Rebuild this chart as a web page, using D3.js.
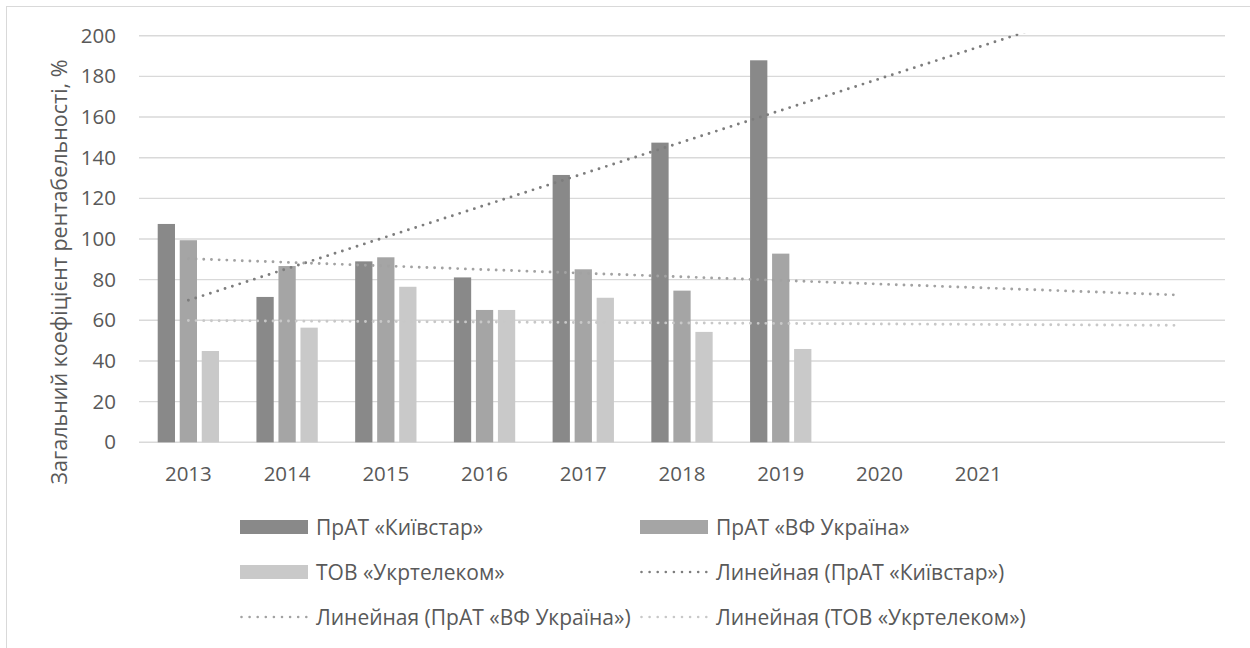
<!DOCTYPE html>
<html>
<head>
<meta charset="utf-8">
<script src="https://cdn.jsdelivr.net/npm/d3@7"></script>
<style>
  html, body { margin: 0; padding: 0; background: #fff; }
  svg { display: block; font-family: "Open Sans", "Noto Sans", sans-serif; }
</style>
</head>
<body>
<svg id="chart" width="1250" height="648"></svg>
<script>
// ---- data ----
const years = ["2013", "2014", "2015", "2016", "2017", "2018", "2019", "2020", "2021"];
const kyivstar   = [107.4, 71.5, 89.0, 81.1, 131.5, 147.4, 187.9, null, null];
const vfUkraine  = [99.4, 86.7, 91.0, 65.1, 85.1, 74.6, 92.8, null, null];
const ukrtelecom = [44.9, 56.4, 76.5, 65.1, 71.1, 54.3, 45.9, null, null];
const seriesNames = ["ПрАТ «Київстар»", "ПрАТ «ВФ Україна»", "ТОВ «Укртелеком»"];
const trendNames = ["Линейная (ПрАТ «Київстар»)", "Линейная (ПрАТ «ВФ Україна»)", "Линейная (ТОВ «Укртелеком»)"];
const yTicks = [0, 20, 40, 60, 80, 100, 120, 140, 160, 180, 200];
const forecastForward = 4;   // trendline forecast, periods
const yTitle = "Загальний коефіцієнт рентабельності, %";

const barColors = ["#898989", "#a5a5a5", "#c9c9c9"];
const trendColors = ["#7d7d7d", "#a2a2a2", "#c8c8c8"];

const allSeries = [kyivstar, vfUkraine, ukrtelecom];

// ---- layout ----
const svg = d3.select("#chart");
const plot = { left: 139, right: 1225, top: 35.7, bottom: 442.3 };

// chart border (only top/left visible in frame)
svg.append("rect").attr("x", 6.5).attr("y", 6.5).attr("width", 1260).attr("height", 660)
  .attr("fill", "none").attr("stroke", "#d9d9d9").attr("stroke-width", 1);

// number of periods: data points + forecast
const nData = d3.max(allSeries, s => s.filter(v => v != null).length);
const nPeriods = nData + forecastForward;
const periods = d3.range(1, nPeriods + 1);

const x = d3.scaleBand().domain(periods).range([plot.left, plot.right]).paddingInner(0).paddingOuter(0);
const bw = x.bandwidth();
const xc = p => x(p) + bw / 2;
const y = d3.scaleLinear().domain([0, 200]).range([plot.bottom, plot.top]);

// gridlines
const gGrid = svg.append("g");
gGrid.selectAll("line").data(yTicks).join("line")
  .attr("x1", plot.left).attr("x2", plot.right)
  .attr("y1", d => y(d)).attr("y2", d => y(d))
  .attr("stroke", "#d9d9d9").attr("stroke-width", 1.4);

// y tick labels
const yAxis = d3.axisLeft(y).tickValues(yTicks).tickSize(0).tickPadding(0);
const gy = svg.append("g").attr("transform", `translate(116,0)`).call(yAxis);
gy.select(".domain").remove();
gy.selectAll("text").attr("font-size", 20.5).attr("fill", "#595959")
  .attr("font-family", "'Open Sans', sans-serif");

// x axis labels
const xAxis = d3.axisBottom(x).tickSize(0).tickPadding(0).tickFormat(p => years[p - 1] || "");
const gx = svg.append("g").attr("transform", `translate(0,${plot.bottom})`).call(xAxis);
gx.select(".domain").remove();
gx.selectAll("text").attr("font-size", 20.5).attr("fill", "#595959")
  .attr("y", 39).attr("dy", 0)
  .attr("font-family", "'Open Sans', sans-serif");

// bars
const barW = bw * 0.175, barStep = bw * 0.223;
allSeries.forEach((vals, si) => {
  svg.append("g").selectAll("rect")
    .data(vals.map((v, i) => ({ p: i + 1, v })).filter(d => d.v != null))
    .join("rect")
    .attr("x", d => xc(d.p) + (si - 1) * barStep - barW / 2)
    .attr("width", barW)
    .attr("y", d => y(d.v))
    .attr("height", d => y(0) - y(d.v))
    .attr("fill", barColors[si]);
});

// linear trendlines (least squares, as Excel), clipped to plot area
svg.append("defs").append("clipPath").attr("id", "clip")
  .append("rect").attr("x", plot.left).attr("y", plot.top - 2)
  .attr("width", plot.right - plot.left).attr("height", plot.bottom - plot.top + 4);

function linFit(vals) {
  const pts = vals.map((v, i) => [i + 1, v]).filter(d => d[1] != null);
  const mx = d3.mean(pts, d => d[0]), my = d3.mean(pts, d => d[1]);
  const sxy = d3.sum(pts, d => (d[0] - mx) * (d[1] - my));
  const sxx = d3.sum(pts, d => (d[0] - mx) ** 2);
  const b = sxy / sxx, a = my - b * mx;
  return { a, b, x0: pts[0][0], x1: pts[pts.length - 1][0] + forecastForward };
}
const line = d3.line().x(d => xc(d[0])).y(d => y(d[1]));
const gTrend = svg.append("g").attr("clip-path", "url(#clip)");
allSeries.forEach((vals, si) => {
  const f = linFit(vals);
  const pts = [[f.x0, f.a + f.b * f.x0], [f.x1, f.a + f.b * f.x1]];
  gTrend.append("path").attr("d", line(pts))
    .attr("fill", "none").attr("stroke", trendColors[si])
    .attr("stroke-width", 2.9).attr("stroke-linecap", "round")
    .attr("stroke-dasharray", "0 7.7");
});

// y title
svg.append("text")
  .attr("transform", "translate(67,272) rotate(-90)")
  .attr("text-anchor", "middle")
  .attr("font-size", 21.5).attr("fill", "#595959")
  .text(yTitle);

// legend
const legendItems = [
  { type: "bar", i: 0, label: seriesNames[0] },
  { type: "bar", i: 1, label: seriesNames[1] },
  { type: "bar", i: 2, label: seriesNames[2] },
  { type: "trend", i: 0, label: trendNames[0] },
  { type: "trend", i: 1, label: trendNames[1] },
  { type: "trend", i: 2, label: trendNames[2] }
];
const legX0 = 240, legColStep = 400, legY0 = 527, legRowStep = 45;
const gLeg = svg.append("g");
legendItems.forEach((it, k) => {
  const col = k % 2, row = Math.floor(k / 2);
  const lx = legX0 + col * legColStep, ly = legY0 + row * legRowStep;
  if (it.type === "bar") {
    gLeg.append("rect").attr("x", lx).attr("y", ly - 7).attr("width", 68).attr("height", 14)
      .attr("fill", barColors[it.i]);
  } else {
    gLeg.append("line").attr("x1", lx + 1.5).attr("x2", lx + 66.5).attr("y1", ly).attr("y2", ly)
      .attr("stroke", trendColors[it.i]).attr("stroke-width", 2.6)
      .attr("stroke-linecap", "round").attr("stroke-dasharray", "0 8.1");
  }
  gLeg.append("text").attr("x", lx + 76).attr("y", ly).attr("dy", "0.36em")
    .attr("font-size", 21).attr("fill", "#595959").text(it.label);
});
</script>
</body>
</html>
